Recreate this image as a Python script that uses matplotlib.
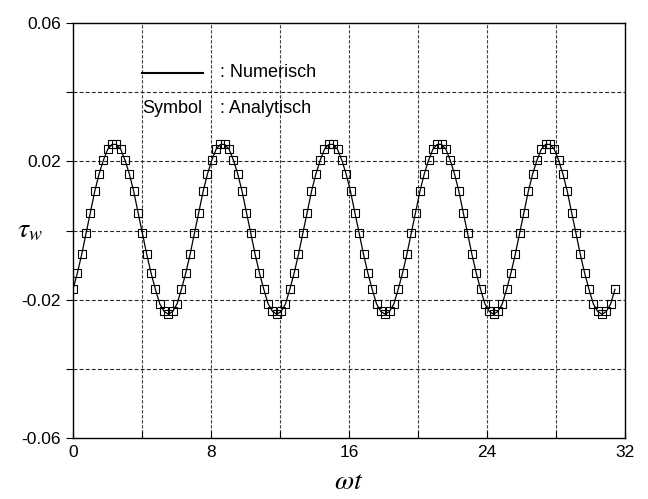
import numpy as np
import matplotlib
matplotlib.use('Agg')
import matplotlib.pyplot as plt
from matplotlib.ticker import MultipleLocator, FixedLocator

plt.rcParams['font.family'] = ['Liberation Sans', 'DejaVu Sans']
plt.rcParams['mathtext.fontset'] = 'stix'

# Wall shear stress over five periods, 25 samples per period
tau_w = [
    -0.0170, -0.0123, -0.0069, -0.0008, 0.0052, 0.0113, 0.0163, 0.0203, 0.0235, 0.0249,
    0.0249, 0.0235, 0.0203, 0.0163, 0.0113, 0.0052, -0.0008, -0.0069, -0.0123, -0.0170,
    -0.0212, -0.0234, -0.0242, -0.0234, -0.0212,
    -0.0170, -0.0123, -0.0069, -0.0008, 0.0052, 0.0113, 0.0163, 0.0203, 0.0235, 0.0249,
    0.0249, 0.0235, 0.0203, 0.0163, 0.0113, 0.0052, -0.0008, -0.0069, -0.0123, -0.0170,
    -0.0212, -0.0234, -0.0242, -0.0234, -0.0212,
    -0.0170, -0.0123, -0.0069, -0.0008, 0.0052, 0.0113, 0.0163, 0.0203, 0.0235, 0.0249,
    0.0249, 0.0235, 0.0203, 0.0163, 0.0113, 0.0052, -0.0008, -0.0069, -0.0123, -0.0170,
    -0.0212, -0.0234, -0.0242, -0.0234, -0.0212,
    -0.0170, -0.0123, -0.0069, -0.0008, 0.0052, 0.0113, 0.0163, 0.0203, 0.0235, 0.0249,
    0.0249, 0.0235, 0.0203, 0.0163, 0.0113, 0.0052, -0.0008, -0.0069, -0.0123, -0.0170,
    -0.0212, -0.0234, -0.0242, -0.0234, -0.0212,
    -0.0170, -0.0123, -0.0069, -0.0008, 0.0052, 0.0113, 0.0163, 0.0203, 0.0235, 0.0249,
    0.0249, 0.0235, 0.0203, 0.0163, 0.0113, 0.0052, -0.0008, -0.0069, -0.0123, -0.0170,
    -0.0212, -0.0234, -0.0242, -0.0234, -0.0212,
    -0.0170,
]
omega_t = np.linspace(0.0, 31.416, len(tau_w))

x_ticks = [0, 8, 16, 24, 32]
y_ticks = [-0.06, -0.02, 0.02, 0.06]
x_grid = [4, 8, 12, 16, 20, 24, 28]
y_grid = [-0.04, -0.02, 0.0, 0.02, 0.04]

fig = plt.figure(figsize=(6.48, 4.99), dpi=100)
ax = fig.add_axes([0.1127, 0.1222, 0.8519, 0.8317])

# grid lines
for xg in x_grid:
    ax.axvline(xg, color='0.25', lw=0.8, ls=(0, (3, 1.5)), zorder=1)
for yg in y_grid:
    ax.axhline(yg, color='0.15', lw=0.8, ls=(0, (3.5, 2)), zorder=1)

# numerical solution and analytical symbols
ax.plot(omega_t, tau_w, color='black', lw=0.9, zorder=3)
ax.plot(omega_t, tau_w, ls='none', marker='s', markersize=6,
        markerfacecolor='none', markeredgecolor='black', markeredgewidth=0.8, zorder=4)

ax.set_xlim(0, 32)
ax.set_ylim(-0.06, 0.06)
ax.xaxis.set_major_locator(FixedLocator(x_ticks))
ax.xaxis.set_minor_locator(MultipleLocator(4))
ax.yaxis.set_major_locator(FixedLocator(y_ticks))
ax.yaxis.set_minor_locator(MultipleLocator(0.02))
ax.set_yticklabels(['-0.06', '-0.02', '0.02', '0.06'])
ax.tick_params(which='both', direction='out', length=5, width=0.8, labelsize=12.5)
ax.tick_params(axis='x', which='both', direction='in', length=5, pad=5)
for s in ax.spines.values():
    s.set_linewidth(1.0)

ax.set_xlabel(r'$\omega t$', fontsize=20)
ax.xaxis.set_label_coords(0.5, -0.075)
ax.set_ylabel(r'$\tau_w$', fontsize=20, rotation=0, ha='center', va='center')
ax.yaxis.set_label_coords(-0.078, 0.5)

# legend drawn by hand
ax.plot([4.0, 7.55], [0.0456, 0.0456], color='black', lw=1.5, zorder=5)
ax.text(8.5, 0.0456, ': Numerisch', fontsize=13, va='center', ha='left')
ax.text(4.0, 0.0352, 'Symbol', fontsize=13, va='center', ha='left')
ax.text(8.5, 0.0352, ': Analytisch', fontsize=13, va='center', ha='left')

fig.savefig('out.png', dpi=100)
